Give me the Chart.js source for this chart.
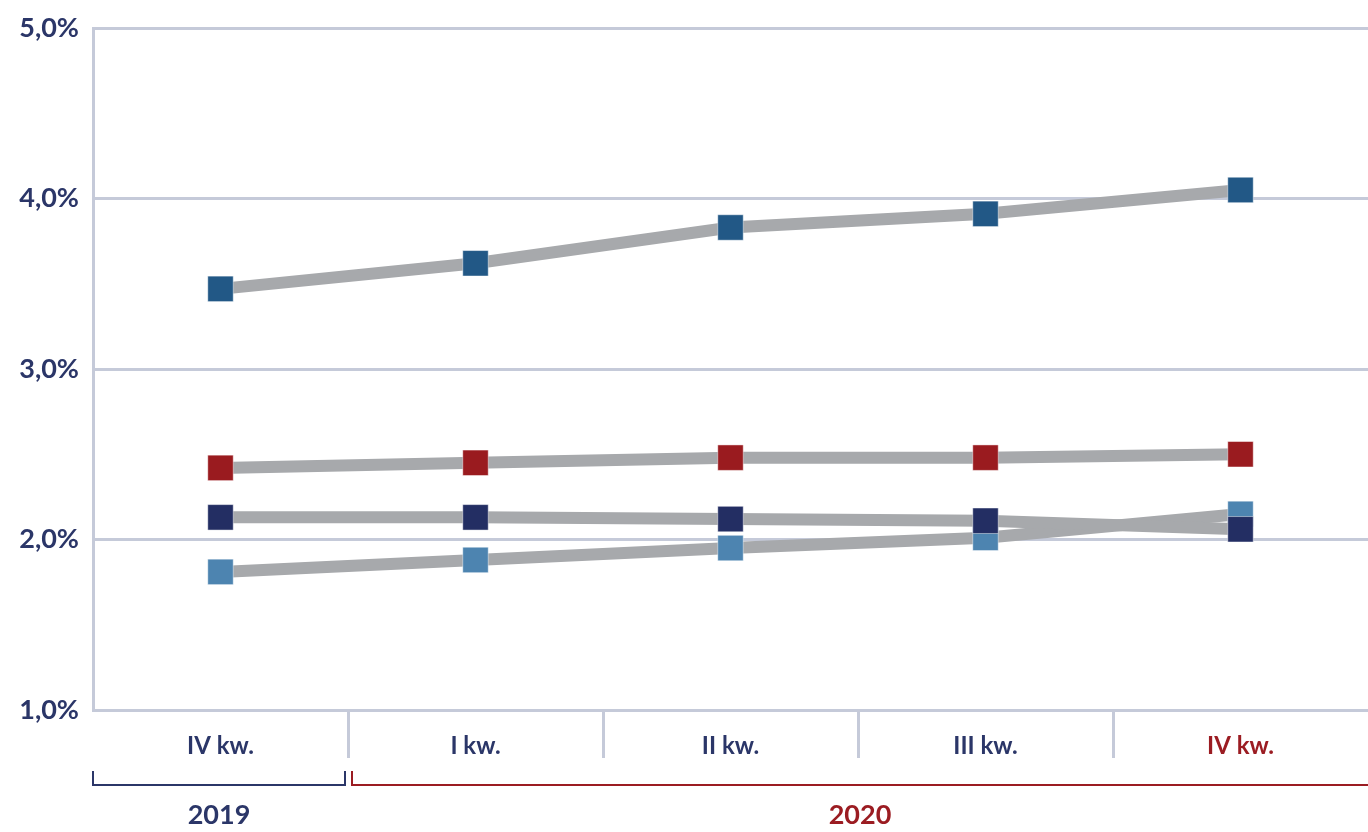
<!DOCTYPE html>
<html>
<head>
<meta charset="utf-8">
<script src="https://cdn.jsdelivr.net/npm/chart.js@4/dist/chart.umd.min.js"></script>
<style>
  html, body { margin: 0; padding: 0; background: #fff; overflow: hidden; }
  #wrap { width: 1368px; height: 832px; position: relative; }
</style>
</head>
<body>
<div id="wrap"><canvas id="chart"></canvas></div>
<script>
// dane
var kwartaly = ["IV kw.", "I kw.", "II kw.", "III kw.", "IV kw."];
var lata = ["2019", "2020"];
var rokKwartalu = [0, 1, 1, 1, 1];
var seriaA = [3.47, 3.62, 3.83, 3.91, 4.05];
var seriaB = [2.42, 2.45, 2.48, 2.48, 2.50];
var seriaC = [2.13, 2.13, 2.12, 2.11, 2.06];
var seriaD = [1.81, 1.88, 1.95, 2.01, 2.15];
var yTicks = [1, 2, 3, 4, 5];

var granat = "#2b3668";
var czerwony = "#9b1c22";
var siatka = "#c5cad9";
var szary = "#a7a9ac";

function seria(dane, kolor) {
    return {
        data: dane,
        borderColor: szary,
        borderWidth: 12,
        borderCapStyle: "butt",
        tension: 0,
        pointStyle: "rect",
        pointRadius: 18,
        pointHoverRadius: 18,
        pointBackgroundColor: kolor,
        pointBorderColor: "rgba(255,255,255,0.45)",
        pointBorderWidth: 1
    };
}

// klamry z latami pod osią X
var klamry = {
    id: "klamry",
    afterDraw: function(chart) {
        var ctx = chart.ctx;
        var x = chart.scales.x;
        var area = chart.chartArea;
        var pol = (x.getPixelForValue(1) - x.getPixelForValue(0)) / 2;
        var yLinii = 785, yGora = 771;
        lata.forEach(function(rok, g) {
            var idx = [];
            rokKwartalu.forEach(function(r, i) { if (r === g) idx.push(i); });
            var lewy = g === 0 ? area.left : x.getPixelForValue(idx[0]) - pol + 4;
            var prawy = g === lata.length - 1 ? chart.width : x.getPixelForValue(idx[idx.length - 1]) + pol - 3;
            var kolor = g === 0 ? granat : czerwony;
            ctx.save();
            ctx.strokeStyle = kolor;
            ctx.lineWidth = 2;
            ctx.beginPath();
            ctx.moveTo(lewy, yGora);
            ctx.lineTo(lewy, yLinii);
            ctx.lineTo(prawy, yLinii);
            if (prawy < chart.width) ctx.lineTo(prawy, yGora);
            ctx.stroke();
            ctx.fillStyle = kolor;
            ctx.font = "bold 27px Lato";
            ctx.textAlign = "center";
            ctx.textBaseline = "middle";
            ctx.fillText(rok, (lewy + prawy) / 2, 815);
            ctx.restore();
        });
    }
};

new Chart(document.getElementById("chart"), {
    type: "line",
    data: {
        labels: kwartaly,
        datasets: [
            seria(seriaA, "#225886"),
            seria(seriaB, "#9a1b1f"),
            seria(seriaC, "#232e63"),
            seria(seriaD, "#4d84b0")
        ]
    },
    options: {
        responsive: true,
        maintainAspectRatio: false,
        animation: false,
        layout: { autoPadding: false, padding: { top: 28, right: 0, bottom: 72, left: 0 } },
        plugins: {
            legend: { display: false },
            tooltip: { enabled: false }
        },
        scales: {
            x: {
                offset: true,
                border: { color: siatka, width: 3 },
                grid: {
                    offset: true,
                    drawOnChartArea: false,
                    drawTicks: true,
                    tickLength: 48,
                    tickWidth: 3,
                    tickColor: function(c) {
                        return (c.index > 0 && c.index < kwartaly.length) ? siatka : "rgba(0,0,0,0)";
                    }
                },
                ticks: {
                    padding: -26,
                    maxRotation: 0,
                    font: { family: "Lato", size: 24, weight: "bold" },
                    color: function(c) { return c.index === kwartaly.length - 1 ? czerwony : granat; }
                },
                afterFit: function(s) {
                    s.height = 50;
                    s.paddingLeft = 0;
                    s.paddingRight = 0;
                }
            },
            y: {
                min: 1,
                max: 5,
                afterBuildTicks: function(s) { s.ticks = yTicks.map(function(v) { return { value: v }; }); },
                border: { color: siatka, width: 3 },
                grid: { color: siatka, lineWidth: 3, drawTicks: false },
                ticks: {
                    padding: 14,
                    font: { family: "Lato", size: 27, weight: "bold" },
                    color: granat,
                    callback: function(v) { return v.toFixed(1).replace(".", ",") + "%"; }
                },
                afterFit: function(s) {
                    s.width = 93;
                    s.paddingTop = 0;
                    s.paddingBottom = 0;
                }
            }
        }
    },
    plugins: [klamry]
});
</script>
</body>
</html>
